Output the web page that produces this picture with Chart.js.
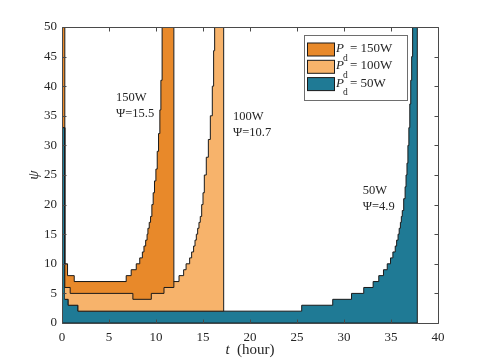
<!DOCTYPE html>
<html><head><meta charset="utf-8">
<script src="https://cdn.jsdelivr.net/npm/chart.js@4/dist/chart.umd.min.js"></script>
<style>html,body{margin:0;padding:0;background:#fff;}</style>
</head><body>
<canvas id="c" width="485" height="363"></canvas>
<script>
// ---------- data ----------
const xTickValues = [0,5,10,15,20,25,30,35,40];
const yTickValues = [0,5,10,15,20,25,30,35,40,45,50];

// P_d = 150W region: upper and lower boundaries (t in hours, psi)
const t150Up   = [0.1,0.3,0.59,1.3,6.83,7.36,7.9,8.27,8.55,8.72,8.9,9.05,9.14,9.28,9.42,9.56,9.7,9.84,9.99,10.13,10.27,10.41,10.52,10.65,11.9];
const psi150Up = [50,10,8,7,8,9,10,11,12,13,14,15,16,17,18,20,22,24,26,29,32,36,41,50,50];
const t150Low   = [0.1,0.3,0.87,7.54,9.5,10.85,11.9];
const psi150Low = [33,6,5,4,5,6,50];

// P_d = 100W region
const t100Up   = [0.3,1.3,12.45,12.94,13.2,13.58,13.79,14.0,14.15,14.29,14.43,14.57,14.71,14.86,15.0,15.14,15.35,15.57,15.78,15.99,16.13,16.24,17.2];
const psi100Up = [6,7,8,9,10,11,12,13,14,15,16,17,18,20,22,25,28,31,35,40,46,50,50];
const t100Low   = [0.3,0.66,1.7,17.2];
const psi100Low = [4,3,2,50];

// P_d = 50W region
const t50Up   = [0,0.3,0.66,1.7,25.5,28.8,30.8,32.1,33.1,33.7,34.2,34.6,34.95,35.2,35.45,35.6,35.75,35.87,36.0,36.1,36.2,36.35,36.5,36.6,36.7,36.8,36.9,37.0,37.1,37.2,37.3,37.8];
const psi50Up = [33,4,3,2,3,4,5,6,7,8,9,10,11,12,13,14,15,16,17,18,19,21,23,25,27,30,33,37,41,45,50,50];
const t50Low   = [0,37.8,37.8];
const psi50Low = [0,0,50];

const powerLabels = ['150W','100W','50W'];
const psiIndexLabels = ['15.5','10.7','4.9'];

// ---------- styles ----------
const colors = ['#E8892A','#F7B36B','#1F7A95'];
const edge = '#1a1a1a';
const axisColor = '#4a4a4a';
const textColor = '#262626';
const serif = "'Liberation Serif', 'Times New Roman', serif";

const pts = (xs, ys) => xs.map((v, i) => ({x: v, y: ys[i]}));
const base = {stepped: 'before', pointRadius: 0, borderWidth: 1, borderColor: edge, tension: 0};

const datasets = [
  Object.assign({}, base, {label: 'l150', data: pts(t150Low, psi150Low), fill: false, order: 1}),
  Object.assign({}, base, {label: 'u150', data: pts(t150Up, psi150Up), fill: 0, backgroundColor: colors[0], order: 1}),
  Object.assign({}, base, {label: 'l100', data: pts(t100Low, psi100Low), fill: false, order: 2}),
  Object.assign({}, base, {label: 'u100', data: pts(t100Up, psi100Up), fill: 2, backgroundColor: colors[1], order: 2}),
  Object.assign({}, base, {label: 'l50', data: pts(t50Low, psi50Low), fill: false, order: 3}),
  Object.assign({}, base, {label: 'u50', data: pts(t50Up, psi50Up), fill: 4, backgroundColor: colors[2], order: 3})
];

// label anchors (data coords) for the annotations
const annotAnchors = [{t: 5.75, psi: 38.2}, {t: 18.2, psi: 35.0}, {t: 32.0, psi: 22.4}];

const decorPlugin = {
  id: 'decor',
  afterDraw(chart) {
    const ctx = chart.ctx;
    const {left, right, top, bottom} = chart.chartArea;
    const xs = chart.scales.x, ys = chart.scales.y;
    const L = Math.floor(left) + 0.5, R = Math.floor(right) + 0.5, T = Math.floor(top) + 0.5, B = Math.floor(bottom) + 0.5;
    ctx.save();
    // box
    ctx.strokeStyle = axisColor; ctx.lineWidth = 1;
    ctx.beginPath();
    ctx.moveTo(L, T); ctx.lineTo(R, T); ctx.lineTo(R, B); ctx.lineTo(L, B); ctx.closePath();
    ctx.stroke();
    // inside ticks
    const tl = 4;
    ctx.beginPath();
    xTickValues.forEach(v => {
      const px = Math.round(xs.getPixelForValue(v)) + 0.5;
      ctx.moveTo(px, B); ctx.lineTo(px, B - tl);
      ctx.moveTo(px, T); ctx.lineTo(px, T + tl);
    });
    yTickValues.forEach(v => {
      const py = Math.round(ys.getPixelForValue(v)) + 0.5;
      ctx.moveTo(L, py); ctx.lineTo(L + tl, py);
      ctx.moveTo(R, py); ctx.lineTo(R - tl, py);
    });
    ctx.stroke();

    // axis titles
    ctx.fillStyle = textColor;
    ctx.textBaseline = 'alphabetic';
    const cx = (left + right) / 2;
    ctx.font = 'italic 15px ' + serif;
    const wt = ctx.measureText('t').width;
    ctx.font = '15px ' + serif;
    const wh = ctx.measureText('  (hour)').width;
    let sx = cx - (wt + wh) / 2;
    ctx.font = 'italic 15px ' + serif;
    ctx.fillText('t', sx, 354);
    ctx.font = '15px ' + serif;
    ctx.fillText('  (hour)', sx + wt, 354);

    ctx.save();
    ctx.translate(38, (top + bottom) / 2);
    ctx.rotate(-Math.PI / 2);
    ctx.font = 'italic 15px ' + serif;
    ctx.textAlign = 'center';
    ctx.fillText('\u03C8', 0, 0);
    ctx.restore();

    // annotations
    ctx.font = '12.5px ' + serif;
    ctx.textAlign = 'left';
    annotAnchors.forEach((a, i) => {
      const px = xs.getPixelForValue(a.t), py = ys.getPixelForValue(a.psi);
      ctx.fillText(powerLabels[i], px, py + 4);
      ctx.fillText('\u03A8=' + psiIndexLabels[i], px, py + 20);
    });

    // legend
    const lx = 304.5, ly = 35.5, lw = 103, lh = 65;
    ctx.fillStyle = '#fff';
    ctx.fillRect(lx, ly, lw, lh);
    ctx.strokeStyle = '#6e6e6e';
    ctx.strokeRect(lx, ly, lw, lh);
    const rowY = [49.5, 66.8, 84.1];
    powerLabels.forEach((lab, i) => {
      const cy = rowY[i];
      ctx.fillStyle = colors[i];
      ctx.fillRect(307.5, cy - 6.5, 27, 13);
      ctx.strokeStyle = edge;
      ctx.strokeRect(307.5, cy - 6.5, 27, 13);
      ctx.fillStyle = textColor;
      ctx.font = 'italic 13px ' + serif;
      ctx.fillText('P', 336, cy + 2.5);
      ctx.font = '9.5px ' + serif;
      ctx.fillText('d', 343, cy + 11);
      ctx.font = '13px ' + serif;
      ctx.fillText('= ' + lab, 350, cy + 2.5);
    });
    ctx.restore();
  }
};

new Chart(document.getElementById('c'), {
  type: 'line',
  data: {datasets},
  options: {
    responsive: false,
    devicePixelRatio: 1,
    animation: false,
    events: [],
    layout: {padding: {left: 0, right: 47, top: 27, bottom: 0}},
    plugins: {legend: {display: false}, tooltip: {enabled: false}, filler: {propagate: false}},
    scales: {
      x: {
        type: 'linear', min: 0, max: 40,
        afterFit: s => { s.height = 40; },
        afterBuildTicks: s => { s.ticks = xTickValues.map(v => ({value: v})); },
        ticks: {font: {family: serif, size: 13}, color: textColor, padding: 7, maxRotation: 0},
        grid: {display: false, drawTicks: false},
        border: {display: false}
      },
      y: {
        type: 'linear', min: 0, max: 50,
        afterFit: s => { s.width = 62; },
        afterBuildTicks: s => { s.ticks = yTickValues.map(v => ({value: v})); },
        ticks: {font: {family: serif, size: 13}, color: textColor, padding: 5},
        grid: {display: false, drawTicks: false},
        border: {display: false}
      }
    }
  },
  plugins: [decorPlugin]
});
</script>
</body></html>
